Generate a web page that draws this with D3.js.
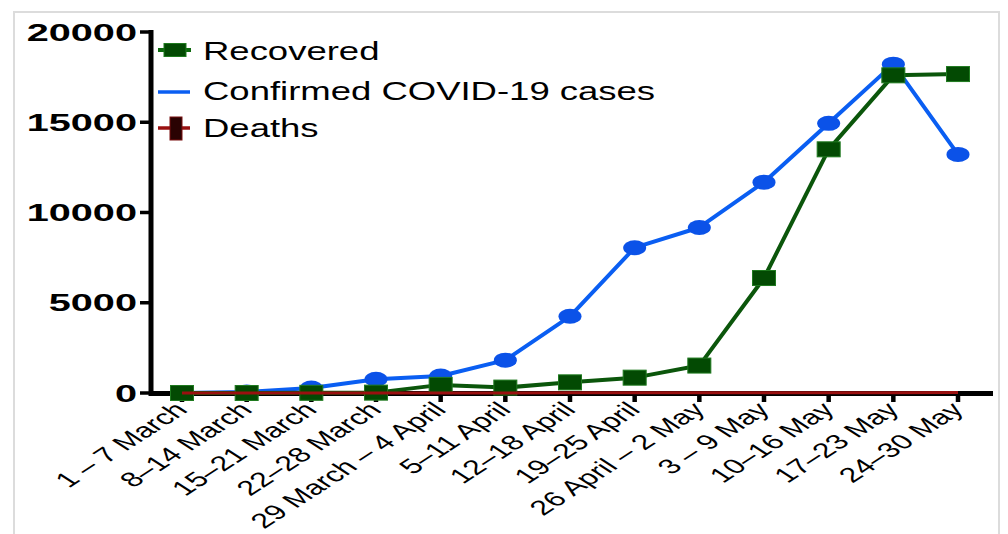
<!DOCTYPE html>
<html><head><meta charset="utf-8">
<script src="https://cdn.jsdelivr.net/npm/d3@7"></script>
<style>html,body{margin:0;padding:0;background:#fff;}svg{display:block;}</style>
</head><body>
<svg id="chart" width="1008" height="534"></svg>
<script>
const categories = ["1 – 7 March","8–14 March","15–21 March","22–28 March","29 March – 4 April","5–11 April","12–18 April","19–25 April","26 April – 2 May","3 – 9 May","10–16 May","17–23 May","24–30 May"];
const recovered = [0, 0, 10, 20, 450, 300, 590, 850, 1520, 6370, 13500, 17600, 17670];
const confirmed = [0, 60, 280, 760, 940, 1820, 4250, 8050, 9170, 11680, 14940, 18220, 13220];
const deaths = [0, 0, 1, 2, 4, 6, 8, 10, 12, 15, 18, 20, 22];
const yTicks = [0, 5000, 10000, 15000, 20000];
const legendLabels = ["Recovered", "Confirmed COVID-19 cases", "Deaths"];

const svg = d3.select("#chart");
const FONT = "'Liberation Sans', Arial, Helvetica, sans-serif";
const BLUE = "#0a5ef2", GREEN = "#0b560b", GFILL = "#034a03", RED = "#9a1010";

// frame
svg.append("rect").attr("x",14).attr("y",12).attr("width",985).attr("height",540)
  .attr("fill","none").attr("stroke","#dcdcdc").attr("stroke-width",2);

const x = d3.scalePoint().domain(categories).range([182, 958]);
const y = d3.scaleLinear().domain([0, 20000]).range([393, 32]);

// y axis
const yAxis = svg.append("g");
yAxis.append("line").attr("x1",151).attr("x2",151).attr("y1",30).attr("y2",396)
  .attr("stroke","#000").attr("stroke-width",5);
yAxis.selectAll("line.tk").data(yTicks).join("line").attr("class","tk")
  .attr("x1",140).attr("x2",151).attr("y1",d=>y(d)).attr("y2",d=>y(d))
  .attr("stroke","#000").attr("stroke-width",3.5);
yAxis.selectAll("text").data(yTicks).join("text")
  .attr("transform", d=>`translate(137,${y(d)+8.5}) scale(1.62,1)`)
  .attr("text-anchor","end").attr("font-family",FONT).attr("font-weight","bold")
  .attr("font-size",24.5).attr("fill","#000").text(d=>d);

// x axis
const xAxis = svg.append("g");
xAxis.append("line").attr("x1",149).attr("x2",993).attr("y1",393.5).attr("y2",393.5)
  .attr("stroke","#000").attr("stroke-width",5);
xAxis.selectAll("line.tk").data(categories).join("line").attr("class","tk")
  .attr("x1",d=>x(d)).attr("x2",d=>x(d)).attr("y1",395).attr("y2",402)
  .attr("stroke","#000").attr("stroke-width",4.5);
xAxis.selectAll("text").data(categories).join("text")
  .attr("transform", d=>`translate(${x(d)+7},${411}) scale(1.55,1) rotate(-45)`)
  .attr("text-anchor","end").attr("font-family",FONT).attr("font-size",20.8)
  .attr("fill","#000").text(d=>d);

const line = d3.line().x((d,i)=>x(categories[i])).y(d=>y(d));

// confirmed
svg.append("path").datum(confirmed).attr("d",line).attr("fill","none")
  .attr("stroke",BLUE).attr("stroke-width",4).attr("stroke-linejoin","round");
svg.selectAll("ellipse.conf").data(confirmed).join("ellipse").attr("class","conf")
  .attr("cx",(d,i)=>x(categories[i])).attr("cy",d=>y(d)).attr("rx",11.5).attr("ry",7.5)
  .attr("fill","#0b52e8");

// recovered
svg.append("path").datum(recovered).attr("d",line).attr("fill","none")
  .attr("stroke",GREEN).attr("stroke-width",4).attr("stroke-linejoin","round");
svg.selectAll("rect.rec").data(recovered).join("rect").attr("class","rec")
  .attr("x",(d,i)=>x(categories[i])-11.5).attr("y",d=>y(d)-7.5).attr("width",23).attr("height",15)
  .attr("fill",GFILL).attr("stroke","#1f7a1f").attr("stroke-width",1);

// deaths
svg.append("path").datum(deaths).attr("d",line).attr("fill","none")
  .attr("stroke",RED).attr("stroke-width",3);

// legend
const lg = svg.append("g");
const ly = [50, 92, 128];
const lb = [60, 100, 137];
lg.append("line").attr("x1",158).attr("x2",191).attr("y1",ly[0]).attr("y2",ly[0]).attr("stroke","#0d6a0d").attr("stroke-width",4);
lg.append("rect").attr("x",164).attr("y",ly[0]-6.5).attr("width",22).attr("height",13).attr("fill",GFILL).attr("stroke","#1f7a1f");
lg.append("line").attr("x1",158).attr("x2",190).attr("y1",ly[1]).attr("y2",ly[1]).attr("stroke",BLUE).attr("stroke-width",3.5);
lg.append("line").attr("x1",158).attr("x2",190).attr("y1",ly[2]).attr("y2",ly[2]).attr("stroke",RED).attr("stroke-width",3.5);
lg.append("rect").attr("x",170).attr("y",117).attr("width",12).attr("height",23).attr("fill","#2a0202").attr("stroke","#7a1010").attr("stroke-width",1);
lg.selectAll("text").data(legendLabels).join("text")
  .attr("transform",(d,i)=>`translate(203,${lb[i]}) scale(1.46,1)`)
  .attr("font-family",FONT).attr("font-size",25).attr("fill","#000").text(d=>d);
</script>
</body></html>
